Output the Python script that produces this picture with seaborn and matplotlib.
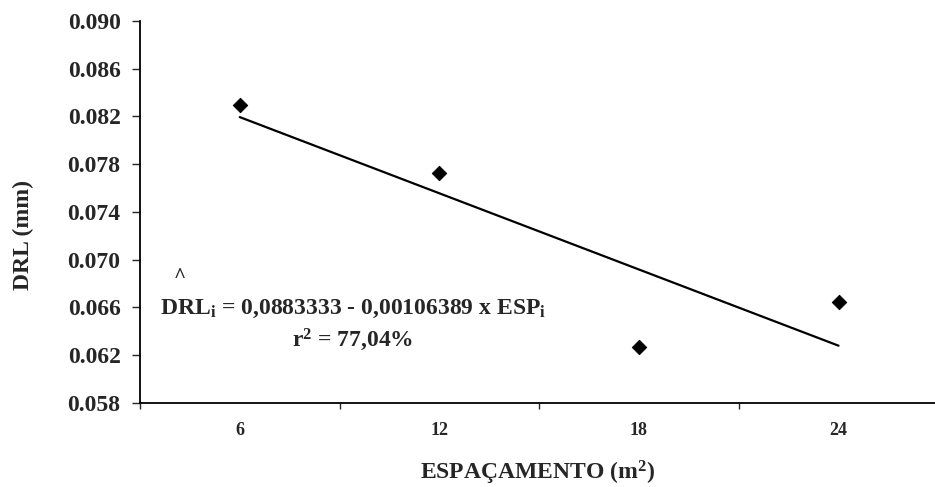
import numpy as np
import pandas as pd
import matplotlib
matplotlib.use('Agg')
import matplotlib.pyplot as plt
import seaborn as sns
from matplotlib.ticker import FixedLocator, FormatStrFormatter

# Data
espacamento = [6, 12, 18, 24]
drl = [0.0830, 0.0773, 0.0627, 0.0665]

# fitted equation shown on the chart
coef_a = 0.0883333
coef_b = -0.00106389
x_fit = np.array([6, 24])
y_fit = coef_a + coef_b * x_fit

x_tick_labels = ['6', '12', '18', '24']
y_ticks = [0.058, 0.062, 0.066, 0.070, 0.074, 0.078, 0.082, 0.086, 0.090]

data = pd.DataFrame({'ESP': espacamento, 'DRL': drl})
fit = pd.DataFrame({'ESP': x_fit, 'DRL': y_fit})

sns.set_style('ticks')
plt.rcParams['font.family'] = ['Liberation Serif', 'DejaVu Serif']
plt.rcParams['font.weight'] = 'bold'
plt.rcParams['mathtext.fontset'] = 'custom'
plt.rcParams['mathtext.rm'] = 'Liberation Serif:bold'
plt.rcParams['mathtext.it'] = 'Liberation Serif:bold'
plt.rcParams['mathtext.bf'] = 'Liberation Serif:bold'

fig = plt.figure(figsize=(9.35, 4.87), dpi=100)
ax = fig.add_axes([0.1497, 0.1725, 0.8503, 0.7844])

sns.lineplot(data=fit, x='ESP', y='DRL', color='black', linewidth=1.6, ax=ax)
sns.scatterplot(data=data, x='ESP', y='DRL', marker='D', s=55, color='black',
                edgecolor='black', ax=ax, zorder=3)

ax.set_xlim(3, 26.9)
ax.set_ylim(0.058, 0.090)

# category style x axis: labels at centers, ticks between categories
ax.xaxis.set_major_locator(FixedLocator(espacamento))
ax.set_xticklabels(x_tick_labels)
ax.xaxis.set_minor_locator(FixedLocator([3, 9, 15, 21, 27]))
ax.tick_params(axis='x', which='major', length=0, pad=14, labelsize=13)
ax.tick_params(axis='x', which='minor', length=4, width=1, direction='out')

ax.yaxis.set_major_locator(FixedLocator(y_ticks))
ax.yaxis.set_major_formatter(FormatStrFormatter('%.3f'))
ax.tick_params(axis='y', which='major', length=6, width=1, pad=8, labelsize=17)

for lab in ax.get_xticklabels() + ax.get_yticklabels():
    lab.set_fontweight('bold')

sns.despine(ax=ax)
for sp in ['left', 'bottom']:
    ax.spines[sp].set_linewidth(1.3)
    ax.spines[sp].set_color('black')

ax.set_xlabel('ESPAÇAMENTO (m$^2$)', fontsize=17, fontweight='bold', labelpad=14)
ax.set_ylabel('DRL (mm)', fontsize=17, fontweight='bold', labelpad=24)
ax.yaxis.label.set_y(0.44)

ax.text(0.268, 0.246, r'DRL$_\mathrm{i}$ = 0,0883333 - 0,00106389 x ESP$_\mathrm{i}$',
        transform=ax.transAxes, ha='center', va='center', fontsize=17, fontweight='bold')
ax.text(0.05, 0.33, '^', transform=ax.transAxes, ha='center', va='center',
        fontsize=15, fontweight='bold')
ax.text(0.267, 0.165, r'r$^2$ = 77,04%', transform=ax.transAxes, ha='center',
        va='center', fontsize=17, fontweight='bold')

fig.savefig('out.png', dpi=100)
